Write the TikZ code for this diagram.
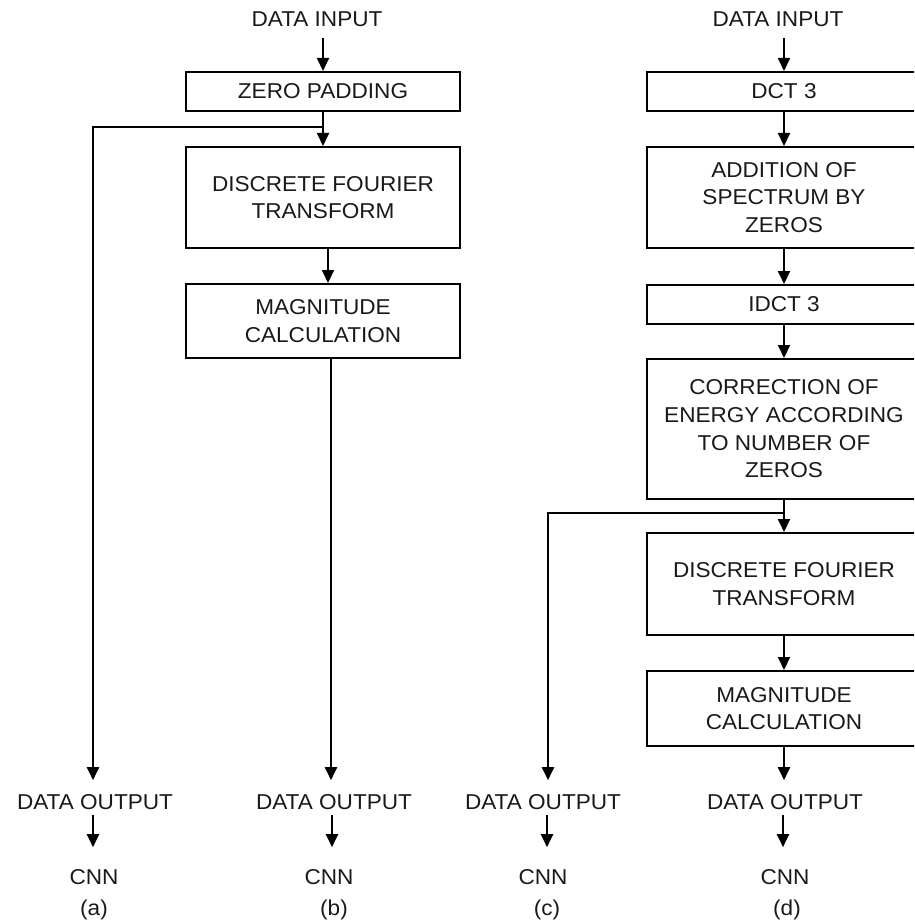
\documentclass[tikz,border=0pt]{standalone}
\usepackage{fontspec}
\setmainfont{Liberation Sans}[FakeStretch=1.05]
\usetikzlibrary{arrows.meta,calc}
\begin{document}
\begin{tikzpicture}[x=1pt,y=-1pt,
  lw/.style={line width=2pt,line join=miter},
  arr/.style={lw,-{Triangle[width=12pt,length=13pt]}},
  txt/.style={inner sep=0pt,font=\fontsize{21.5}{27.7}\selectfont,align=center,text=black!90},
  box/.style={draw,lw,txt,minimum width=274pt}
]
\useasboundingbox (0,0) rectangle (914,923);
\clip (0,0) rectangle (914,923);

% column b
\node[txt] (inb) at (317,19.5) {DATA INPUT};
\node[box,minimum height=39pt] (zp) at (323,91.5) {ZERO PADDING};
\node[box,minimum height=101pt] (dftb) at (323,197.5) {DISCRETE FOURIER\\TRANSFORM};
\node[box,minimum height=74pt] (magb) at (323,321) {MAGNITUDE\\CALCULATION};

% column d
\node[txt] (ind) at (778,19.5) {DATA INPUT};
\node[box,minimum height=39pt] (dct) at (784,91.5) {DCT 3};
\node[box,minimum height=101pt] (add) at (784,197.5) {ADDITION OF\\SPECTRUM BY\\ZEROS};
\node[box,minimum height=39pt] (idct) at (784,304.5) {IDCT 3};
\node[box,minimum height=140pt] (corr) at (784,429) {CORRECTION OF\\ENERGY ACCORDING\\TO NUMBER OF\\ZEROS};
\node[box,minimum height=102pt] (dftd) at (784,584) {DISCRETE FOURIER\\TRANSFORM};
\node[box,minimum height=75pt] (magd) at (784,708.5) {MAGNITUDE\\CALCULATION};

% outputs
\node[txt] (outa) at (95,802) {DATA OUTPUT};
\node[txt] (outb) at (334,802) {DATA OUTPUT};
\node[txt] (outc) at (543,802) {DATA OUTPUT};
\node[txt] (outd) at (785,802) {DATA OUTPUT};
\node[txt] (cnna) at (94,877) {CNN};
\node[txt] (cnnb) at (329,877) {CNN};
\node[txt] (cnnc) at (543,877) {CNN};
\node[txt] (cnnd) at (785,877) {CNN};
\node[txt] (la) at (94,910) {(a)};
\node[txt] (lb) at (334,910) {(b)};
\node[txt] (lc) at (547,910) {(c)};
\node[txt] (ld) at (787,910) {(d)};

% helper coordinates
\coordinate (tb) at (323,38);
\coordinate (td) at (784,38);
\coordinate (sb) at (323,127);
\coordinate (ca) at (93,127);
\coordinate (sd) at (784,513);
\coordinate (cc) at (548,513);
\coordinate (mb) at (331,358);
\coordinate (xa) at (93,0);
\coordinate (xb) at (332,0);
\coordinate (xc) at (547,0);
\coordinate (xd) at (783,0);

% column a/b connectors
\draw[arr] (tb) -- (zp.north);
\draw[lw] (zp.south) -- (sb);
\draw[arr] (sb) -- (dftb.north);
\draw[arr,shorten >=14pt] (sb) -- (ca) -- (ca |- outa.north);
\draw[arr] ($(dftb.south)+(5,0)$) -- ($(magb.north)+(5,0)$);
\draw[arr,shorten >=14pt] (mb) -- (mb |- outb.north);

% column c/d connectors
\draw[arr] (td) -- (dct.north);
\draw[arr] (dct.south) -- (add.north);
\draw[arr] (add.south) -- (idct.north);
\draw[arr] (idct.south) -- (corr.north);
\draw[lw] (corr.south) -- (sd);
\draw[arr] (sd) -- (dftd.north);
\draw[arr,shorten >=14pt] (sd) -- (cc) -- (cc |- outc.north);
\draw[arr] (dftd.south) -- (magd.north);
\draw[arr,shorten >=14pt] (magd.south) -- (magd.south |- outd.north);

% output to CNN
\draw[arr,shorten <=5pt,shorten >=22pt] (xa |- outa.south) -- (xa |- cnna.north);
\draw[arr,shorten <=5pt,shorten >=22pt] (xb |- outb.south) -- (xb |- cnnb.north);
\draw[arr,shorten <=5pt,shorten >=22pt] (xc |- outc.south) -- (xc |- cnnc.north);
\draw[arr,shorten <=5pt,shorten >=22pt] (xd |- outd.south) -- (xd |- cnnd.north);
\end{tikzpicture}
\end{document}
